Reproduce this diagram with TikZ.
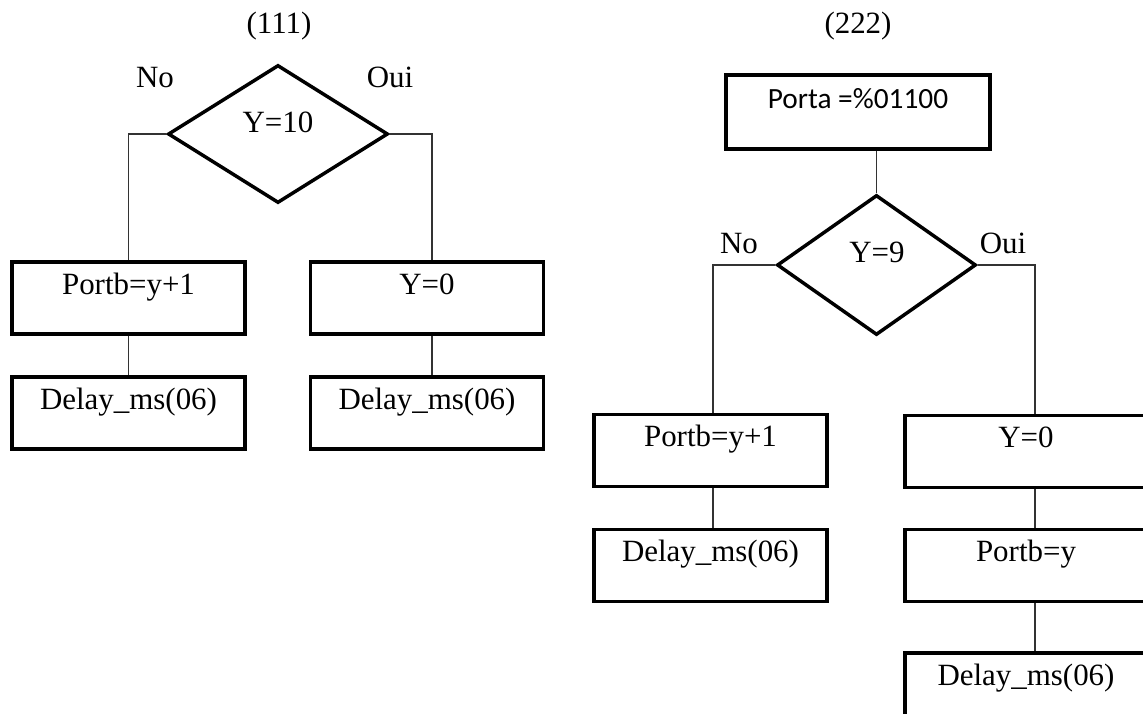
\documentclass[tikz,border=0pt]{standalone}
\usepackage{fontspec}
\setmainfont{Liberation Serif}
\newfontfamily\calibfont{Carlito}
\usetikzlibrary{shapes.geometric}
\tikzset{
  basefont/.style={font=\fontsize{23.2}{27}\selectfont},
  lbl/.style={basefont, inner sep=0pt, anchor=base},
  box/.style={draw, line width=2.6pt, rectangle, inner sep=0pt,
    minimum width=174.75pt, minimum height=54pt,
    text height=24pt, text depth=30pt, basefont},
  widebox/.style={box, minimum width=181.5pt},
  portabox/.style={box, minimum width=198pt, minimum height=55.5pt,
    text height=24.75pt, text depth=30.75pt, font=\calibfont\fontsize{22}{26}\selectfont},
  decision/.style={draw, line width=2.6pt, diamond, inner sep=0pt},
  conn/.style={line width=1.1pt, draw=black!80},
}
\begin{document}
\begin{tikzpicture}[x=0.75pt, y=-0.75pt]
\useasboundingbox (0,0) rectangle (1143,714);
\clip (0,0) rectangle (1143,714);

% ---- chart (111)
\node[lbl] (h1) at (279,33) {(111)};
\node[decision, minimum width=165pt, minimum height=103.5pt] (d1) at (278,134) {};
\node[lbl] (d1t) at (278,132) {Y=10};
\node[lbl] (no1) at (155,87) {No};
\node[lbl] (oui1) at (390,87) {Oui};
\node[box] (p1) at (128.5,298) {Portb=y+1};
\node[box] (y1) at (427,298) {Y=0};
\node[box] (d1a) at (128.5,413) {Delay\_ms(06)};
\node[box] (d1b) at (427,413) {Delay\_ms(06)};

\draw[conn] (d1.west) -| (p1.north);
\draw[conn] (d1.east) -| ([xshift=3.75pt]y1.north);
\draw[conn] (p1.south) -- (d1a.north);
\draw[conn] ([xshift=3.75pt]y1.south) -- ([xshift=3.75pt]d1b.north);

% ---- chart (222)
\node[lbl] (h2) at (858,33) {(222)};
\node[portabox] (porta) at (858,112) {Porta =\%01100};
\node[decision, minimum width=149.25pt, minimum height=105pt] (d2) at (876.5,265) {};
\node[lbl] (d2t) at (877,262) {Y=9};
\node[lbl] (no2) at (739,253) {No};
\node[lbl] (oui2) at (1003,253) {Oui};
\node[box] (p2) at (710.5,450.5) {Portb=y+1};
\node[box] (dl2) at (710.5,565.5) {Delay\_ms(06)};
\node[widebox] (y2) at (1026,451.5) {Y=0};
\node[widebox] (pb) at (1026,565.5) {Portb=y};
\node[widebox] (dl3) at (1026,689) {Delay\_ms(06)};

\draw[conn] (porta.south -| d2.north) -- (d2.north);
\draw[conn] (d2.west) -| ([xshift=1.9pt]p2.north);
\draw[conn] ([xshift=1.9pt]p2.south) -- ([xshift=1.9pt]dl2.north);
\draw[conn] (d2.east) -| ([xshift=6.75pt]y2.north);
\draw[conn] ([xshift=6.75pt]y2.south) -- ([xshift=6.75pt]pb.north);
\draw[conn] ([xshift=6.75pt]pb.south) -- ([xshift=6.75pt]dl3.north);
\end{tikzpicture}
\end{document}
